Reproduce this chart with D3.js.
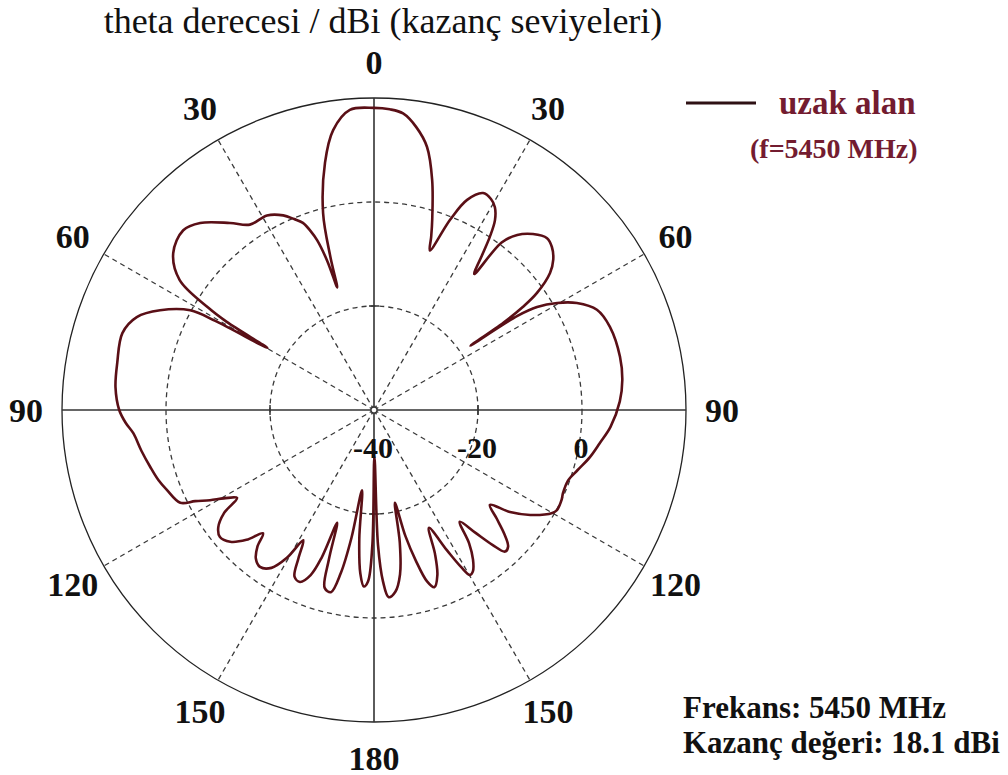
<!DOCTYPE html>
<html>
<head>
<meta charset="utf-8">
<script src="https://cdn.jsdelivr.net/npm/d3@7"></script>
<style>
  html, body { margin: 0; padding: 0; background: #fff; }
  svg { display: block; }
</style>
</head>
<body>
<svg id="chart" width="1008" height="775"></svg>
<script>
// Far-field elevation cut, theta in degrees (clockwise from top), gain in dBi
const thetaDeg = [
  0,3,5.6,8.5,11.4,14.2,17,18.3,19.3,
  21.8,23.9,26.7,29,30.8,32.5,33.8,34.8,36.4,
  37.3,39.3,42.1,45.2,47.5,50,52.1,54.3,55.3,56,56.3,
  56.7,57.7,59.7,62.2,65.8,70.6,77.8,83.1,88,
  94.1,98.3,102.3,106.5,110,113.7,115.6,118.7,120,123.9,126.9,129.3,
  131.5,133.5,135.5,137.2,138.7,140.5,142.5,
  144.5,146.5,148.5,149.8,151,152.5,155,
  157,159,161.2,162.8,164.5,166,167.3,
  169,171,173.3,175.5,177,178.3,179.5,
  180.7,182,183.3,184.8,186.5,188.5,
  190,191.5,193.3,195.5,196.8,198.1,
  199.5,201,203.3,205.5,207,208.5,
  210.5,213,216,218.5,220.5,222,
  224.5,227.5,230.5,233,235.5,237.3,
  239.5,241.2,243,244.4,248.9,252,255.7,260,264.5,267,270,275,280.4,287,291.4,295,298.5,299.3,300.2,
  300.9,301.7,303.8,308,313.3,317.1,322.4,326.2,331.2,335,337.3,339.2,340.5,341.5,342.6,343.3,
  344.1,345.5,348.8,351.7,355.4
];
const gainDbi = [
  18.1,17.9,17.3,15.0,11.6,5.6,-1.7,-5,-7.5,
  -0.6,4.2,6.7,6.4,5.4,3.3,0,-3.3,-7.5,
  0.5,3.5,5.6,6.9,6.4,5.0,2.9,-1.4,-5.2,-10,-17.7,
  -7,-2.9,0.8,4.1,7.0,8.1,8.4,8.1,7.3,
  5.6,3.9,2.5,0.8,-0.3,-0.3,0,0.1,-0.4,-3.8,-7.3,-11.2,
  -8.5,-5.5,-3.2,-2.9,-5.5,-9.5,-12.9,
  -8.5,-5.5,-3.6,-3.3,-5.5,-9.5,-15,
  -10,-6,-4.0,-5.5,-10,-15,-21.7,
  -14,-8,-4.8,-3.9,-7,-14,-31,
  -14,-7,-6.0,-8.5,-15,-24.4,
  -15,-8,-4.0,-4.5,-10,-17.2,
  -10,-6,-4.0,-4.5,-8,-11.5,
  -7,-3.8,-2.7,-3.5,-5.5,-8.1,
  -5,-2.5,-1.6,-2.5,-5,-8.7,
  -6.5,-4.0,-1.4,1.3,2.7,3.6,4.4,5.4,6.5,7.8,9.0,9.9,10.2,10.6,9.0,5.4,0.2,-5,-16.3,
  -7,-2.5,5.0,9.0,10.4,9.1,5.4,2.9,2.7,1.3,-0.2,-1.5,-3.5,-5.6,-10,-15.4,
  -9.4,-0.9,8.5,14.4,17.9
];

// Grid definitions
const ringLevels = [-20, 0];            // dashed gain rings
const ringLabels = [-40, -20, 0];       // gain labels on the 90° axis
const spokeAngles = [30, 60, 120, 150, 210, 240, 300, 330];
const angleTicks = [0, 30, 60, 90, 120, 150, 180, 210, 240, 270, 300, 330];
const gainDomain = [-40, 20];

const titleText = "theta derecesi / dBi (kazanç seviyeleri)";
const legendName = "uzak alan";
const legendSub = "(f=5450 MHz)";
const infoLines = ["Frekans: 5450 MHz", "Kazanç değeri: 18.1 dBi"];

const cx = 374, cy = 410, R = 312;
const serif = "'Liberation Serif', 'Times New Roman', serif";
const curveColor = "#5a0f16";
const legendColor = "#731c30";

const svg = d3.select("#chart");
const g = svg.append("g").attr("transform", `translate(${cx},${cy})`);

const rScale = d3.scaleLinear().domain(gainDomain).range([0, R]);
const aScale = d3.scaleLinear().domain([0, 360]).range([0, 2 * Math.PI]);
const polar = (deg, r) => {
  const a = aScale(deg);
  return [r * Math.sin(a), -r * Math.cos(a)];
};

// dashed gain rings
g.selectAll("circle.ring").data(ringLevels).enter().append("circle")
  .attr("class", "ring")
  .attr("r", d => rScale(d))
  .attr("fill", "none")
  .attr("stroke", "#3a3a3a")
  .attr("stroke-width", 1.3)
  .attr("stroke-dasharray", "5,4");

// dashed angle spokes
g.selectAll("line.spoke").data(spokeAngles).enter().append("line")
  .attr("class", "spoke")
  .attr("x1", 0).attr("y1", 0)
  .attr("x2", d => polar(d, R)[0])
  .attr("y2", d => polar(d, R)[1])
  .attr("stroke", "#3a3a3a")
  .attr("stroke-width", 1.3)
  .attr("stroke-dasharray", "5,4");

// outer boundary
g.append("circle")
  .attr("r", rScale(gainDomain[1]))
  .attr("fill", "none")
  .attr("stroke", "#222")
  .attr("stroke-width", 1.3);

// solid main axes
[0, 90].forEach(deg => {
  const p = polar(deg, R), q = polar(deg + 180, R);
  g.append("line")
    .attr("x1", q[0]).attr("y1", q[1])
    .attr("x2", p[0]).attr("y2", p[1])
    .attr("stroke", "#333")
    .attr("stroke-width", 1.6);
});

// small ticks on the axes at the -20 dB ring
[0, 90, 180, 270].forEach(deg => {
  const r = rScale(-20);
  const [x, y] = polar(deg, r);
  const a = aScale(deg);
  const tx = Math.cos(a) * 5, ty = Math.sin(a) * 5;
  g.append("line")
    .attr("x1", x - tx).attr("y1", y - ty)
    .attr("x2", x + tx).attr("y2", y + ty)
    .attr("stroke", "#333").attr("stroke-width", 1.5);
});

// centre marker
g.append("circle").attr("r", 3).attr("fill", "#fff")
  .attr("stroke", "#333").attr("stroke-width", 1.3);

// pattern trace
const pts = thetaDeg.map((t, i) => ({ t, v: gainDbi[i] }));
const radial = d3.lineRadial()
  .angle(d => aScale(d.t))
  .radius(d => rScale(d.v))
  .curve(d3.curveCatmullRomClosed.alpha(0.5));
g.append("path")
  .attr("d", radial(pts))
  .attr("fill", "none")
  .attr("stroke", curveColor)
  .attr("stroke-width", 2.6)
  .attr("stroke-linejoin", "round");

// angle labels
g.selectAll("text.ang").data(angleTicks).enter().append("text")
  .attr("class", "ang")
  .attr("x", d => polar(d, 348)[0])
  .attr("y", d => polar(d, 348)[1])
  .attr("text-anchor", "middle")
  .attr("dominant-baseline", "central")
  .attr("font-family", serif)
  .attr("font-weight", "bold")
  .attr("font-size", 34)
  .attr("fill", "#111")
  .text(d => d <= 180 ? d : 360 - d);

// gain labels along the right axis
g.selectAll("text.gain").data(ringLabels).enter().append("text")
  .attr("class", "gain")
  .attr("x", d => rScale(d) - 1)
  .attr("y", 37)
  .attr("text-anchor", "middle")
  .attr("dominant-baseline", "central")
  .attr("font-family", serif)
  .attr("font-weight", "bold")
  .attr("font-size", 30)
  .attr("fill", "#111")
  .text(d => d);

// title
svg.append("text")
  .attr("x", 383).attr("y", 33)
  .attr("text-anchor", "middle")
  .attr("font-family", serif)
  .attr("font-size", 36)
  .attr("fill", "#111")
  .text(titleText);

// legend
svg.append("line")
  .attr("x1", 686).attr("x2", 756).attr("y1", 103).attr("y2", 103)
  .attr("stroke", "#2e1114").attr("stroke-width", 3);
svg.append("text")
  .attr("x", 779).attr("y", 114)
  .attr("font-family", serif).attr("font-weight", "bold")
  .attr("font-size", 33).attr("fill", legendColor)
  .text(legendName);
svg.append("text")
  .attr("x", 750).attr("y", 158)
  .attr("font-family", serif).attr("font-weight", "bold")
  .attr("font-size", 28).attr("fill", legendColor)
  .text(legendSub);

// info block
svg.selectAll("text.info").data(infoLines).enter().append("text")
  .attr("class", "info")
  .attr("x", 683)
  .attr("y", (d, i) => 718 + i * 35)
  .attr("font-family", serif).attr("font-weight", "bold")
  .attr("font-size", 31).attr("fill", "#111")
  .text(d => d);
</script>
</body>
</html>
